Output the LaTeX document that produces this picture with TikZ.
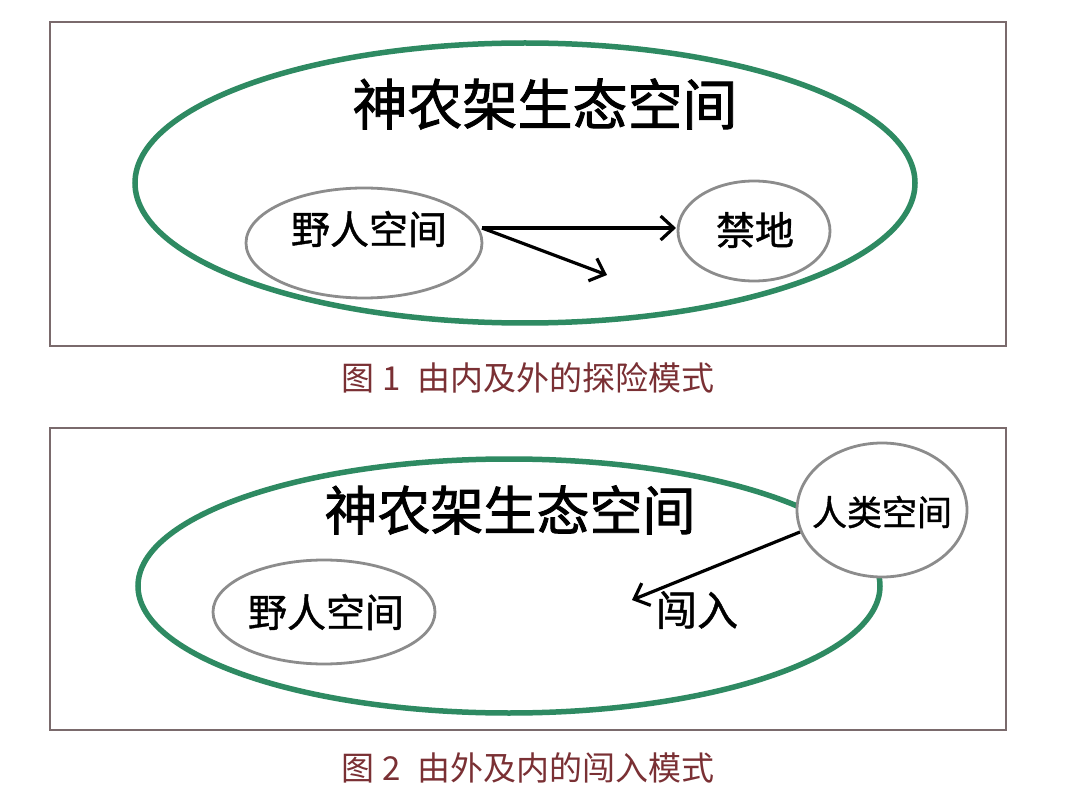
\documentclass[tikz,border=0pt]{standalone}
\usepackage{fontspec}
\setmainfont{Noto Sans CJK SC}
\newfontfamily\cjkmed[FakeBold=1.6]{Noto Sans CJK SC}
\newfontfamily\cjklbl[FakeBold=1.1]{Noto Sans CJK SC}
\usetikzlibrary{arrows.meta}
\definecolor{framec}{HTML}{7A6A6C}
\definecolor{greenc}{HTML}{2E8A62}
\definecolor{grayc}{HTML}{8C8C8C}
\definecolor{capc}{HTML}{7A3034}
\tikzset{
  frame/.style={draw=framec, line width=1.3pt},
  outer/.style={draw=greenc, line width=5.5pt},
  inner/.style={draw=grayc, line width=2.8pt, fill=white},
  title/.style={font=\cjkmed\fontsize{55}{58}\selectfont},
  titlesm/.style={font=\cjkmed\fontsize{53}{56}\selectfont},
  lbl/.style={font=\cjklbl\fontsize{39}{42}\selectfont},
  lblsmall/.style={font=\cjklbl\fontsize{35}{38}\selectfont},
  lblbig/.style={font=\cjklbl\fontsize{41}{44}\selectfont},
  captext/.style={font=\fontsize{33}{35}\selectfont, text=capc},
  arr/.style={line width=3.2pt, -{Straight Barb[length=13pt,width=24pt,line width=3.2pt]}}
}
\begin{document}
\begin{tikzpicture}[x=1pt,y=-1pt]
\useasboundingbox (0,0) rectangle (1080,805);
\fill[white] (0,0) rectangle (1080,805);
% ---------- Figure 1 ----------
\draw[frame] (50,22) rectangle (1006,346);
\draw[outer] (525,183) ellipse [x radius=390, y radius=140];
\node[title] (t1) at (545,104) {神农架生态空间};
\draw[inner] (364,243) ellipse [x radius=118, y radius=55];
\node[lbl] (w1) at (369,229) {野人空间};
\draw[inner] (754,231) ellipse [x radius=76, y radius=50];
\node[lbl] (j1) at (755,230) {禁地};
\coordinate (s1) at (482,228);
\coordinate (e1) at (676,228);
\coordinate (e2) at (607,275);
\draw[arr] (s1) -- (e1);
\draw[arr] (s1) -- (e2);
\node[captext] (c1) at (528,378) {图 1\enspace 由内及外的探险模式};
% ---------- Figure 2 ----------
\draw[frame] (50,428) rectangle (1006,730);
\draw[outer] (509,586) ellipse [x radius=371, y radius=127];
\node[titlesm] (t2) at (510,510) {神农架生态空间};
\draw[inner] (324,612) ellipse [x radius=111, y radius=52];
\node[lbl] (w2) at (326,612) {野人空间};
\draw[inner] (882,510) ellipse [x radius=85, y radius=67];
\node[lblsmall] (h2) at (882,512) {人类空间};
\coordinate (s2) at (800,532);
\coordinate (e3) at (632,600);
\draw[arr] (s2) -- (e3);
\node[lblbig] (r2) at (697,610) {闯入};
\node[captext] (c2) at (528,768) {图 2\enspace 由外及内的闯入模式};
\end{tikzpicture}
\end{document}
